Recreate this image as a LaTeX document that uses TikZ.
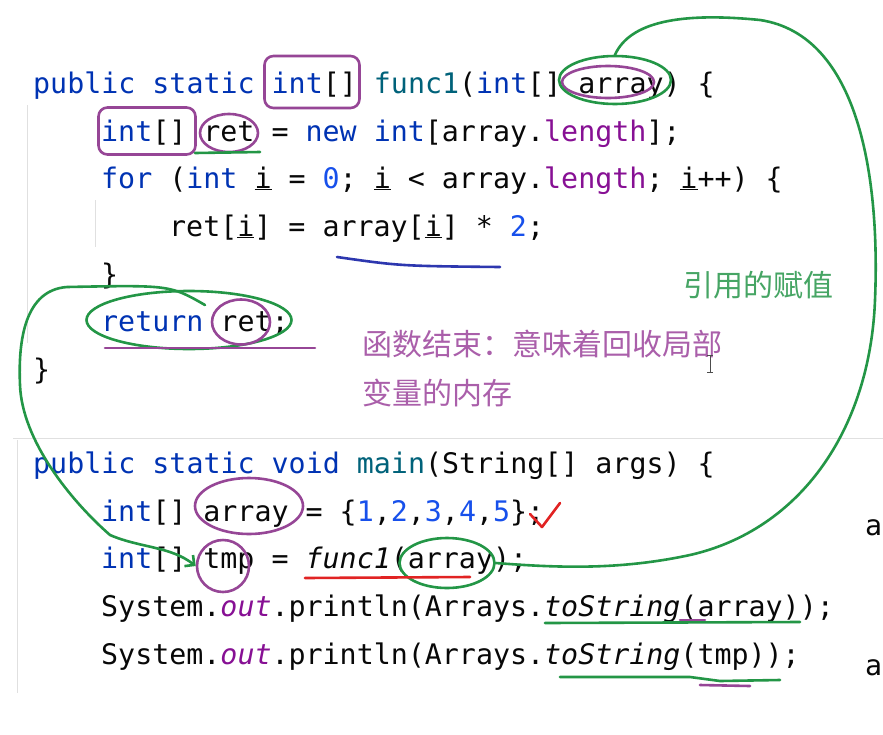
\documentclass[tikz,border=0pt]{standalone}
\usepackage{fontspec}
\newfontfamily\codefont{DejaVu Sans Mono}
\newfontfamily\cjk{Noto Sans CJK SC}
\usetikzlibrary{shapes.geometric,arrows.meta}
\definecolor{kwblue}{HTML}{0033B3}
\definecolor{fnteal}{HTML}{00627A}
\definecolor{numblue}{HTML}{1750EB}
\definecolor{fldpurple}{HTML}{871094}
\definecolor{codeblack}{HTML}{080808}
\definecolor{inkgreen}{RGB}{35,150,70}
\definecolor{inkpurple}{RGB}{150,70,150}
\definecolor{inkblue}{RGB}{45,55,175}
\definecolor{inkred}{RGB}{225,35,35}
\definecolor{notepurple}{RGB}{170,95,170}
\definecolor{notegreen}{RGB}{70,165,100}
\tikzstyle{codeline} = [anchor=base west,
                        inner sep=0pt,
                        text=codeblack,
                        font=\codefont\fontsize{28.3}{34}\selectfont]
\tikzstyle{note}     = [anchor=west,
                        inner sep=0pt,
                        font=\cjk\fontsize{30}{36}\selectfont]
\newcommand\kw[1]{\textcolor{kwblue}{#1}}
\newcommand\fn[1]{\textcolor{fnteal}{#1}}
\newcommand\num[1]{\textcolor{numblue}{#1}}
\newcommand\fld[1]{\textcolor{fldpurple}{#1}}
\newcommand\uv[1]{\underline{#1}}

\begin{document}
\begin{tikzpicture}[%
  x=1pt,
  y=-1pt,
  pen/.style={line width=2.6pt, line cap=round, line join=round},
  greenpen/.style={pen, draw=inkgreen},
  purplepen/.style={pen, draw=inkpurple},
  % Hand drawn marks:
  oval/.style={ellipse, inner sep=0pt},
  box/.style={rectangle, rounded corners=9pt, inner sep=0pt},
  guide/.style={draw=black!12, line width=1pt}
  ]
  \useasboundingbox[fill=white] (0,0) rectangle (883,734);

  % Editor guides:
  \draw[guide] (13,438) -- (883,438);
  \draw[guide] (27,105) -- (27,343);
  \draw[guide] (95,200) -- (95,247);
  \draw[guide] (17,440) -- (17,693);

  % Code:
  \node (c-sig)  [codeline] at (33,93)  {\kw{public static int}[] \fn{func1}(\kw{int}[] array) \{};
  \node (c-new)  [codeline] at (101,141) {\kw{int}[] ret = \kw{new int}[array.\fld{length}];};
  \node (c-for)  [codeline] at (101,188) {\kw{for} (\kw{int} \uv{i} = \num{0}; \uv{i} < array.\fld{length}; \uv{i}++) \{};
  \node (c-body) [codeline] at (169,236) {ret[\uv{i}] = array[\uv{i}] * \num{2};};
  \node (c-end1) [codeline] at (101,284) {\}};
  \node (c-ret)  [codeline] at (101,331) {\kw{return} ret;};
  \node (c-end2) [codeline] at (33,379)  {\}};
  \node (c-main) [codeline] at (33,473)  {\kw{public static void} \fn{main}(String[] args) \{};
  \node (c-arr)  [codeline] at (101,521) {\kw{int}[] array = \{\num{1},\num{2},\num{3},\num{4},\num{5}\};};
  \node (c-call) [codeline] at (101,568) {\kw{int}[] tmp = \textit{func1}(array);};
  \node (c-out1) [codeline] at (101,616) {System.\textit{\fld{out}}.println(Arrays.\textit{toString}(array));};
  \node (c-out2) [codeline] at (101,664) {System.\textit{\fld{out}}.println(Arrays.\textit{toString}(tmp));};
  \node (c-cut1) [codeline] at (865,535) {a};
  \node (c-cut2) [codeline] at (865,675) {a};

  % Notes:
  \node (n-assign) [note, text=notegreen] at (683,285) {引用的赋值};
  \node (n-free1)  [note, text=notepurple] at (362,344) {函数结束：意味着回收局部};
  \node (n-free2)  [note, text=notepurple] at (362,393) {变量的内存};
  \draw[line width=1pt, draw=black!70] (707,355) -- (713,355) (710,355) -- (710,372) (707,372) -- (713,372);

  % Marks:
  \node (m-type)    [box, purplepen, minimum width=95, minimum height=52] at (312,82) {};
  \node (m-type2)   [box, purplepen, minimum width=97, minimum height=47] at (147,131) {};
  \node (m-ret)     [oval, purplepen, minimum width=58, minimum height=38] at (229,133) {};
  \node (m-param2)  [oval, purplepen, minimum width=92, minimum height=32] at (608,82) {};
  \node (m-param)   [oval, greenpen, minimum width=112, minimum height=48] at (615,80) {};
  \node (m-return)  [oval, greenpen, minimum width=205, minimum height=58] at (189,320) {};
  \node (m-ret2)    [oval, purplepen, minimum width=58, minimum height=45] at (241,322) {};
  \node (m-array)   [oval, purplepen, minimum width=108, minimum height=56] at (249,506) {};
  \node (m-tmp)     [oval, purplepen, minimum width=52, minimum height=52] at (223,566) {};
  \node (m-arg)     [oval, greenpen, minimum width=95, minimum height=50] at (447,563) {};
  \coordinate (m-hook) at (205,305);

  % Strokes:
  \draw[greenpen] (195,153) -- (260,152);
  \draw[pen, draw=inkblue] (337,257) .. controls (400,266) .. (500,267);
  \draw[purplepen] (105,348) -- (315,348);
  \draw[pen, draw=inkred] (530,514) -- (542,527) -- (560,503);
  \draw[pen, draw=inkred] (305,578) -- (470,577);
  \draw[greenpen] (545,623) -- (800,622);
  \draw[purplepen] (680,620) -- (705,620);
  \draw[greenpen] (560,677) -- (690,677) -- (720,681) -- (780,680);
  \draw[purplepen] (700,685) -- (750,686);

  % Connectors:
  \draw[greenpen] (m-param.north) .. controls (630,22) and (680,12) .. (760,20)
    .. controls (860,35) and (880,180) .. (875,300)
    .. controls (870,430) and (800,530) .. (690,555)
    .. controls (620,570) and (560,568) .. (m-arg.east);
  \draw[greenpen, -{Straight Barb[length=7pt,width=14pt]}] (m-hook) .. controls (170,285) .. (67,287)
    .. controls (25,290) and (18,340) .. (20,385)
    .. controls (22,440) and (70,500) .. (110,535)
    .. controls (140,548) and (170,546) .. (m-tmp.west);
\end{tikzpicture}
\end{document}
